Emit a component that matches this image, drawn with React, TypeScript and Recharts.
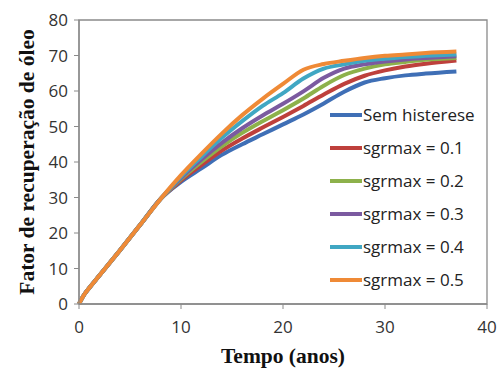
import React from "react";
import {
  LineChart, Line, XAxis, YAxis, ReferenceArea, Label,
} from "recharts";

// tempo (anos)
const tempo = [0, 0.5, 1, 2, 4, 6, 8, 10, 12, 14, 16, 18, 20, 22, 24, 26, 28, 30, 32, 34, 37];

// trecho inicial comum a todas as curvas
const inicio = [0, 2.6, 4.5, 8, 15.1, 22.3, 29.6];
const semHisterese = [...inicio, 34.4, 38.2, 42, 45, 47.8, 50.6, 53.4, 56.5, 59.8, 62.4, 63.6, 64.4, 64.9, 65.5];
const sgr01 = [...inicio, 34.8, 39.1, 43.2, 46.6, 49.7, 52.7, 55.8, 59, 62, 64.3, 65.8, 66.9, 67.7, 68.6];
const sgr02 = [...inicio, 35.2, 40, 44.4, 48.2, 51.5, 54.6, 57.9, 61.5, 64.5, 66.3, 67.5, 68.2, 68.8, 69.3];
const sgr03 = [...inicio, 35.5, 40.7, 45.4, 49.5, 53.1, 56.4, 59.9, 63.7, 66.3, 67.5, 68.3, 68.9, 69.3, 69.8];
const sgr04 = [...inicio, 35.9, 41.5, 46.8, 51.5, 55.8, 59.4, 63.5, 66.3, 67.5, 68.5, 69.1, 69.6, 69.9, 70.3];
const sgr05 = [...inicio, 36.3, 42.3, 48, 53.2, 57.8, 62, 66, 67.6, 68.5, 69.3, 69.9, 70.3, 70.7, 71.1];

const seriesNames = ["Sem histerese", "sgrmax = 0.1", "sgrmax = 0.2", "sgrmax = 0.3", "sgrmax = 0.4", "sgrmax = 0.5"];
const seriesColors = ["#3F6FB6", "#BE403C", "#8DB14B", "#7B5AA0", "#40A7C3", "#EF8A36"];
const seriesValues = [semHisterese, sgr01, sgr02, sgr03, sgr04, sgr05];

const xTicks = [0, 10, 20, 30, 40];
const yTicks = [0, 10, 20, 30, 40, 50, 60, 70, 80];

const data = tempo.map((t, i) => {
  const row: Record<string, number> = { t };
  seriesValues.forEach((vals, k) => {
    row["s" + k] = vals[i];
  });
  return row;
});

const sans = "'Open Sans', 'DejaVu Sans', sans-serif";
const serif = "'Liberation Serif', 'Times New Roman', serif";
const axisGray = "#8a8a8a";

function LegendBox() {
  return (
    <div style={{ position: "absolute", left: 330, top: 98, fontFamily: sans, fontSize: 17, color: "#222" }}>
      {seriesNames.map((name, k) => (
        <div key={name} style={{ display: "flex", alignItems: "center", height: 33, whiteSpace: "nowrap" }}>
          <span style={{ display: "inline-block", width: 32, height: 4, background: seriesColors[k], marginRight: 1 }} />
          <span>{name}</span>
        </div>
      ))}
    </div>
  );
}

export default function App() {
  return (
    <div style={{ position: "fixed", left: 0, top: 0, width: 497, height: 369, background: "#fff" }}>
      <LineChart width={497} height={369} data={data} margin={{ top: 20, right: 10, bottom: 35, left: 0 }}>
        <ReferenceArea x1={0} x2={40} y1={0} y2={80} fill="none" stroke={axisGray} strokeWidth={1.3} />
        <XAxis
          dataKey="t"
          type="number"
          domain={[0, 40]}
          ticks={xTicks}
          height={30}
          axisLine={{ stroke: axisGray, strokeWidth: 1.3 }}
          tickLine={{ stroke: axisGray }}
          tickSize={5}
          tickMargin={12}
          tick={{ fontSize: 17, fill: "#333", fontFamily: sans }}
        >
          <Label
            value="Tempo (anos)"
            position="insideBottom"
            offset={-29}
            style={{ fontFamily: serif, fontWeight: "bold", fontSize: 21.5, fill: "#111" }}
          />
        </XAxis>
        <YAxis
          type="number"
          domain={[0, 80]}
          ticks={yTicks}
          width={79}
          axisLine={{ stroke: axisGray, strokeWidth: 1.3 }}
          tickLine={{ stroke: axisGray }}
          tickSize={5}
          tickMargin={6}
          tick={{ fontSize: 17, fill: "#333", fontFamily: sans }}
        >
          <Label
            value="Fator de recuperação de óleo"
            angle={-90}
            position="insideLeft"
            offset={26}
            style={{ textAnchor: "middle", fontFamily: serif, fontWeight: "bold", fontSize: 21.5, fill: "#111" }}
          />
        </YAxis>
        {seriesNames.map((name, k) => (
          <Line
            key={name}
            dataKey={"s" + k}
            name={name}
            type="monotone"
            stroke={seriesColors[k]}
            strokeWidth={4}
            dot={false}
            isAnimationActive={false}
          />
        ))}
      </LineChart>
      <LegendBox />
    </div>
  );
}
